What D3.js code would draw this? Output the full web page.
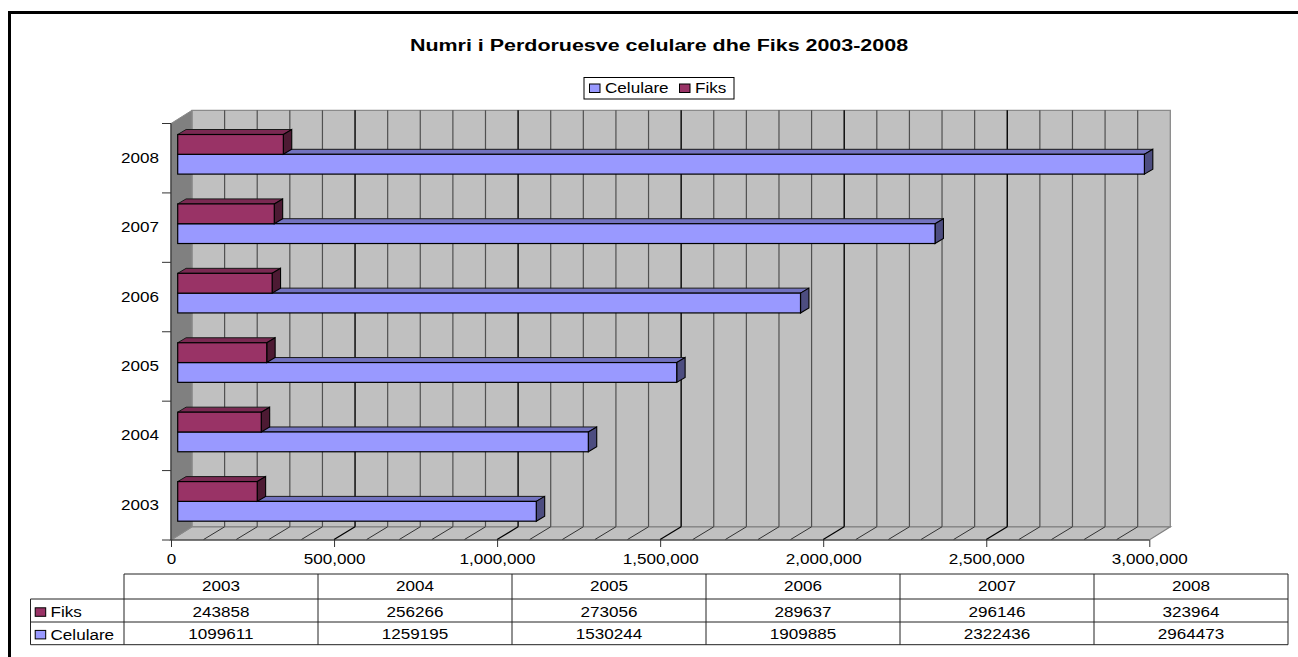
<!DOCTYPE html>
<html><head><meta charset="utf-8">
<script src="https://cdn.jsdelivr.net/npm/d3@7/dist/d3.min.js"></script>
<style>
html,body{margin:0;padding:0;background:#fff;overflow:hidden}
text{font-family:"Liberation Sans",Arial,sans-serif;fill:#000}
</style></head><body>
<svg id="c" width="1298" height="657"></svg>
<script>
const years=["2003","2004","2005","2006","2007","2008"];
const fiks=[243858,256266,273056,289637,296146,323964];
const celulare=[1099611,1259195,1530244,1909885,2322436,2964473];
const title="Numri i Perdoruesve celulare dhe Fiks 2003-2008";
const seriesNames=["Fiks","Celulare"];
const legendOrder=["Celulare","Fiks"];
const colors={Fiks:{f:"#993366",t:"#7a2952",s:"#4d1a33"},Celulare:{f:"#9999ff",t:"#7272bf",s:"#4d4d80"}};
const gridTicks=d3.range(0,3000001,100000);
const majorTicks=[0,500000,1000000,1500000,2000000,2500000,3000000];

const svg=d3.select("#c");
const x=d3.scaleLinear().domain([0,3000000]).range([171,1149.3]);
const y=d3.scaleBand().domain(years.slice().reverse()).range([123.5,540]);
const ys=d3.scaleBand().domain(seriesNames).range([11,50.6]);
const DX=21,DY=-13.2,BX=8.4,BY=-5,BO=6.7;
const yTop=y.range()[0],yBot=y.range()[1],x0=x(0),x1=x(3000000);
const FS=14,WIDE=1.22;
function stretch(sel,k){
 sel.each(function(){
  this.setAttribute("textLength",this.getComputedTextLength()*k);
  this.setAttribute("lengthAdjust","spacingAndGlyphs");
 });
}

// outer frame
svg.append("path").attr("d","M9.5,657V12.5H1298").attr("fill","none").attr("stroke","#000").attr("stroke-width",3);

// title
svg.append("text").attr("x",659).attr("y",50.5).attr("text-anchor","middle")
 .attr("font-size",16).attr("font-weight","bold").text(title).call(stretch,1.34);

// legend
const lg=svg.append("g");
lg.append("rect").attr("x",584).attr("y",77.5).attr("width",150).attr("height",21.5)
 .attr("fill","#fff").attr("stroke","#000").attr("stroke-width",1);
const legX={Celulare:[589.5,605],Fiks:[679.5,695]};
legendOrder.forEach(n=>{
 lg.append("rect").attr("x",legX[n][0]).attr("y",84).attr("width",10.5).attr("height",8.5)
  .attr("fill",colors[n].f).attr("stroke","#000").attr("stroke-width",1);
 lg.append("text").attr("x",legX[n][1]).attr("y",93.3).attr("font-size",FS).text(n).call(stretch,WIDE);
});

// walls
svg.append("path").attr("d",`M${x0+DX},${yTop+DY}H${x1+DX}V${yBot+DY}H${x0+DX}Z`)
 .attr("fill","#c0c0c0").attr("stroke","#8a8a8a").attr("stroke-width",1.3);
svg.append("path").attr("d",`M${x0},${yBot}H${x1}L${x1+DX},${yBot+DY}H${x0+DX}Z`)
 .attr("fill","#c0c0c0").attr("stroke","#808080").attr("stroke-width",1.2);
svg.append("path").attr("d",`M${x0},${yTop}L${x0+DX},${yTop+DY}V${yBot+DY}L${x0},${yBot}Z`)
 .attr("fill","#808080").attr("stroke","#8a8a8a").attr("stroke-width",1);
svg.append("line").attr("x1",x0).attr("x2",x0).attr("y1",yTop).attr("y2",yBot).attr("stroke","#333").attr("stroke-width",1.2);
svg.append("line").attr("x1",x0).attr("x2",x1).attr("y1",yBot).attr("y2",yBot).attr("stroke","#333").attr("stroke-width",1.2);

// gridlines on wall and floor
const isMajor=d=>d%500000===0;
const inner=gridTicks.filter(d=>d>0&&d<3000000);
svg.append("g").selectAll("line").data(inner).join("line")
 .attr("x1",d=>x(d)+DX).attr("x2",d=>x(d)+DX).attr("y1",yTop+DY).attr("y2",yBot+DY)
 .attr("stroke",d=>isMajor(d)?"#000":"#505050").attr("stroke-width",d=>isMajor(d)?1.4:1.2);
svg.append("g").selectAll("line").data(inner).join("line")
 .attr("x1",d=>x(d)).attr("x2",d=>x(d)+DX).attr("y1",yBot-0.5).attr("y2",yBot+DY)
 .attr("stroke",d=>isMajor(d)?"#000":"#333").attr("stroke-width",d=>isMajor(d)?1.3:1);

// bars
function bar(g,name,year,val){
 const c=colors[name];
 const xa=x(0)+BO, xb=x(val)+BO, ya=y(year)+ys(name), h=ys.bandwidth();
 g.append("path").attr("d",`M${xa},${ya}L${xa+BX},${ya+BY}H${xb+BX}L${xb},${ya}Z`)
  .attr("fill",c.t).attr("stroke","#1a1a1a").attr("stroke-width",1);
 g.append("path").attr("d",`M${xb},${ya}L${xb+BX},${ya+BY}V${ya+BY+h}L${xb},${ya+h}Z`)
  .attr("fill",c.s).attr("stroke","#000").attr("stroke-width",1.1);
 g.append("rect").attr("x",xa).attr("y",ya).attr("width",xb-xa).attr("height",h)
  .attr("fill",c.f).attr("stroke","#000").attr("stroke-width",1.2);
}
const bars=svg.append("g");
years.forEach((yr,i)=>{
 const g=bars.append("g");
 bar(g,"Celulare",yr,celulare[i]);
 bar(g,"Fiks",yr,fiks[i]);
});

// axes
const ax=svg.append("g").attr("transform",`translate(0,${yBot})`)
 .call(d3.axisBottom(x).tickValues(majorTicks).tickFormat(d3.format(",")).tickSize(7).tickPadding(7));
ax.select(".domain").remove();
ax.selectAll("line").attr("stroke","#333");
ax.selectAll("text").attr("font-size",FS).style("font-family",'"Liberation Sans",Arial,sans-serif').attr("fill","#000").call(stretch,WIDE);

const ay=svg.append("g").attr("transform",`translate(${x0},0)`)
 .call(d3.axisLeft(y).tickSize(0).tickPadding(12));
ay.select(".domain").remove();
ay.selectAll("text").attr("font-size",FS).style("font-family",'"Liberation Sans",Arial,sans-serif').attr("fill","#000").call(stretch,WIDE);
svg.append("g").selectAll("line").data(years.map(d=>y(d)).concat([yBot])).join("line")
 .attr("x1",x0-9).attr("x2",x0).attr("y1",d=>d).attr("y2",d=>d)
 .attr("stroke","#333").attr("stroke-width",1);

// data table
const tx=d3.scaleBand().domain(years).range([124,1288]);
const rowY=d3.scaleOrdinal(["h","Fiks","Celulare","e"],[574,599,622,644.7]);
const rowBase=d3.scaleOrdinal(["h","Fiks","Celulare"],[591,616.7,639.3]);
const rows=[["Fiks",fiks],["Celulare",celulare]];
const T=svg.append("g");
const ln=(a,b,c,d)=>T.append("line").attr("x1",a).attr("y1",b).attr("x2",c).attr("y2",d).attr("stroke","#222").attr("stroke-width",1);
ln(124,574,1288,574);
ln(30.5,rowY("Fiks"),1288,rowY("Fiks"));
ln(30.5,rowY("Celulare"),1288,rowY("Celulare"));
ln(30.5,rowY("e"),1288,rowY("e"));
ln(30.5,rowY("Fiks"),30.5,rowY("e"));
years.forEach(yr=>ln(tx(yr),574,tx(yr),rowY("e")));
ln(1288,574,1288,rowY("e"));
years.forEach((yr,i)=>{
 T.append("text").attr("x",tx(yr)+tx.bandwidth()/2).attr("y",rowBase("h")).attr("text-anchor","middle").attr("font-size",FS).text(yr).call(stretch,WIDE);
 rows.forEach(([n,v])=>{
  T.append("text").attr("x",tx(yr)+tx.bandwidth()/2).attr("y",rowBase(n)).attr("text-anchor","middle").attr("font-size",FS).text(v[i]).call(stretch,WIDE);
 });
});
rows.forEach(([n])=>{
 T.append("rect").attr("x",35.2).attr("y",rowBase(n)-8.9).attr("width",10.5).attr("height",8.5)
  .attr("fill",colors[n].f).attr("stroke","#000").attr("stroke-width",1);
 T.append("text").attr("x",50.5).attr("y",rowBase(n)+(n==="Celulare"?0.7:0)).attr("font-size",FS).text(n).call(stretch,WIDE);
});
</script>
</body></html>
